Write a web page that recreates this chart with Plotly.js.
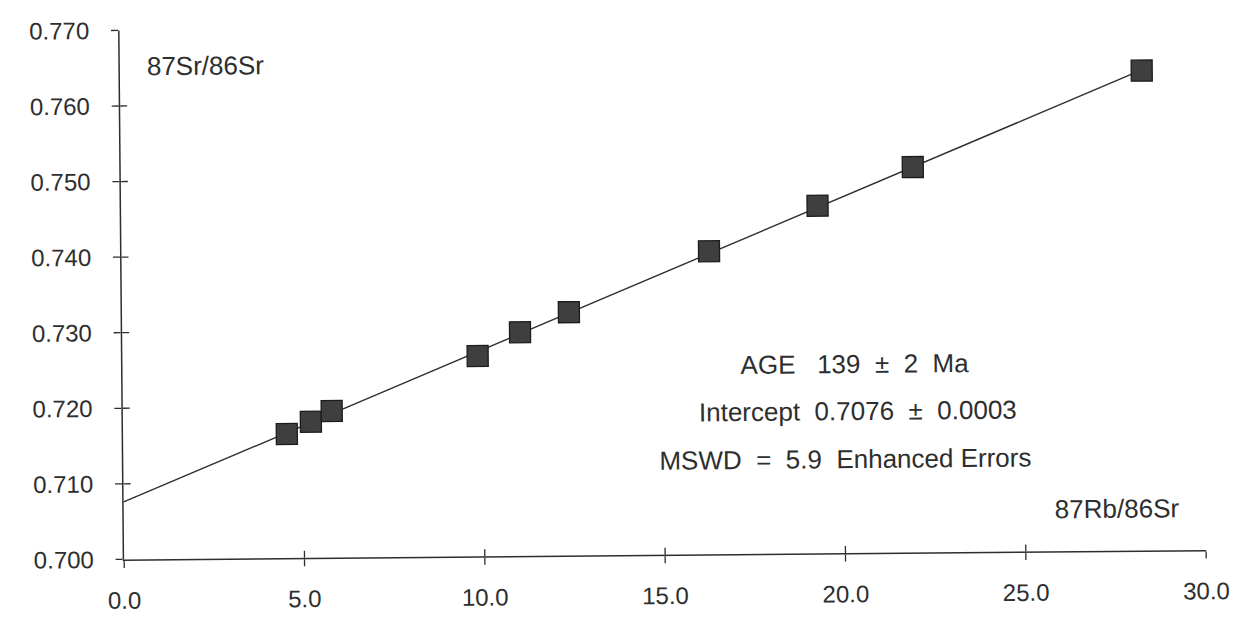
<!DOCTYPE html>
<html>
<head>
<meta charset="utf-8">
<script src="https://cdn.plot.ly/plotly-3.0.1.min.js"></script>
<style>
html,body{margin:0;padding:0;background:#fff;overflow:hidden;}
#chart{width:1254px;height:619px;transform:rotate(-0.5deg);transform-origin:627px 309.5px;}
#chart path, #chart line, #chart rect{shape-rendering:geometricPrecision !important;}
</style>
</head>
<body>
<div id="chart"></div>
<script>
// 87Rb/86Sr values of the samples
const rbSr = [4.54, 5.21, 5.79, 9.85, 11.03, 12.39, 16.29, 19.31, 21.96, 28.33];
// 87Sr/86Sr values of the samples
const srSr = [0.7164, 0.7180, 0.7194, 0.7265, 0.7296, 0.7322, 0.7401, 0.7460, 0.7510, 0.7635];
// isochron line end points (intercept 0.7076, age 139 Ma)
const fitX = [0, 28.33];
const fitY = [0.7076, 0.7636];
const xTicks = [0, 5, 10, 15, 20, 25, 30];
const xTickText = ["0.0", "5.0", "10.0", "15.0", "20.0", "25.0", "30.0"];
const yTicks = [0.70, 0.71, 0.72, 0.73, 0.74, 0.75, 0.76, 0.77];
const yTickText = ["0.700", "0.710", "0.720", "0.730", "0.740", "0.750", "0.760", "0.770"];
const notes = [
  "AGE\u00a0\u00a0\u00a0139\u00a0\u00a0±\u00a0\u00a02\u00a0\u00a0Ma",
  "Intercept\u00a0\u00a00.7076\u00a0\u00a0±\u00a0\u00a00.0003",
  "MSWD\u00a0\u00a0=\u00a0\u00a05.9\u00a0\u00a0Enhanced\u00a0Errors"
];
const yLabel = "87Sr/86Sr";
const xLabel = "87Rb/86Sr";

const ink = "#2e2e2e";
const tickFont = {family: "Liberation Sans, Arial, sans-serif", size: 24, color: ink};
const noteFont = {family: "Liberation Sans, Arial, sans-serif", size: 26, color: ink};

const traces = [
  {x: fitX, y: fitY, mode: "lines", line: {color: ink, width: 1.4}, hoverinfo: "skip"},
  {x: rbSr, y: srSr, mode: "markers",
   marker: {symbol: "square", size: 21, color: "#3f3f3f", line: {color: "#1c1c1c", width: 1.3}}},
  {x: [], y: [], xaxis: "x2", yaxis: "y2", mode: "markers", hoverinfo: "skip"}
];

const xRange = [0, 30];
const yRange = [0.700, 0.770];

const layout = {
  width: 1254, height: 619,
  margin: {l: 122, r: 50, t: 26, b: 64},
  paper_bgcolor: "#ffffff", plot_bgcolor: "#ffffff",
  showlegend: false,
  font: tickFont,
  xaxis: {range: xRange, tickvals: xTicks, ticktext: xTickText, ticks: "outside", ticklen: 7,
          tickcolor: ink, tickwidth: 1.3, showline: true, linecolor: ink, linewidth: 1.5,
          showgrid: false, zeroline: false, tickfont: tickFont, ticklabelstandoff: 12},
  yaxis: {range: yRange, tickvals: yTicks, ticktext: yTickText, ticks: "outside", ticklen: 7,
          tickcolor: ink, tickwidth: 1.3, showline: true, linecolor: ink, linewidth: 1.5,
          showgrid: false, zeroline: false, tickfont: tickFont, ticklabelstandoff: 17},
  xaxis2: {range: xRange, overlaying: "x", tickvals: xTicks, ticks: "inside", ticklen: 7,
           tickcolor: ink, tickwidth: 1.3, showticklabels: false, showgrid: false, zeroline: false, side: "bottom"},
  yaxis2: {range: yRange, overlaying: "y", tickvals: yTicks, ticks: "inside", ticklen: 7,
           tickcolor: ink, tickwidth: 1.3, showticklabels: false, showgrid: false, zeroline: false, side: "left"},
  annotations: [
    {x: 0.70, y: 0.76521, xref: "x", yref: "y", text: yLabel, showarrow: false, xanchor: "left", yanchor: "middle", font: noteFont},
    {x: 29.34, y: 0.70551, xref: "x", yref: "y", text: xLabel, showarrow: false, xanchor: "right", yanchor: "middle", font: noteFont},
    {x: 20.32, y: 0.72499, xref: "x", yref: "y", text: notes[0], showarrow: false, xanchor: "center", yanchor: "middle", font: noteFont},
    {x: 20.37, y: 0.71878, xref: "x", yref: "y", text: notes[1], showarrow: false, xanchor: "center", yanchor: "middle", font: noteFont},
    {x: 20.02, y: 0.71244, xref: "x", yref: "y", text: notes[2], showarrow: false, xanchor: "center", yanchor: "middle", font: noteFont}
  ]
};

Plotly.newPlot("chart", traces, layout, {displayModeBar: false, staticPlot: true});
</script>
</body>
</html>
